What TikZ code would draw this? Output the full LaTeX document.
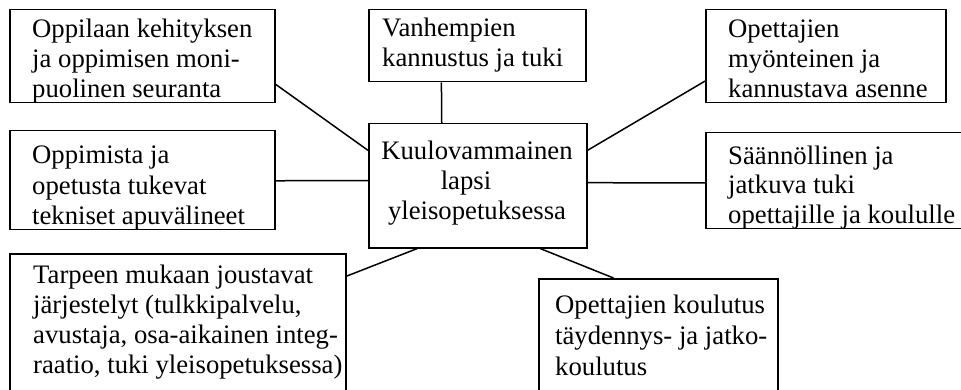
\documentclass[tikz,border=0pt]{standalone}
\usepackage{fontspec}
\setmainfont{Liberation Serif}
\usetikzlibrary{calc}
\begin{document}
\begin{tikzpicture}[x=1pt,y=-1pt,
  boxnode/.style={draw=black,line width=1.5pt,rectangle,inner sep=0pt,anchor=north west},
  txt/.style={inner sep=0pt,anchor=base west,font=\fontsize{26.7}{30}\selectfont},
  ctxt/.style={inner sep=0pt,anchor=base,font=\fontsize{26.7}{30}\selectfont},
  link/.style={draw=black,line width=1.5pt}]
\useasboundingbox (0,0) rectangle (961,390);
\clip (0,0) rectangle (961,390);
\fill[white] (0,0) rectangle (961,390);
% boxes
\node[boxnode,minimum width=265pt,minimum height=93pt] (b1) at (9,9) {};
\node[boxnode,minimum width=217pt,minimum height=72pt] (b2) at (368,9) {};
\node[boxnode,minimum width=240pt,minimum height=93pt] (b3) at (705,9) {};
\node[boxnode,minimum width=265pt,minimum height=99pt] (b4) at (9,130) {};
\node[boxnode,minimum width=218pt,minimum height=124pt] (c) at (368,123) {};
\node[boxnode,minimum width=270pt,minimum height=96pt] (b5) at (705,132) {};
\node[boxnode,minimum width=336pt,minimum height=150pt] (b6) at (9,253) {};
\node[boxnode,minimum width=239pt,minimum height=130pt] (b7) at (538,278) {};
% texts
\node[txt] (t1a) at (32,38) {Oppilaan kehityksen};
\node[txt] (t1b) at (32,68) {ja oppimisen moni-};
\node[txt] (t1c) at (32,98) {puolinen seuranta};
\node[txt] (t2a) at (382,37) {Vanhempien};
\node[txt] (t2b) at (382,67) {kannustus ja tuki};
\node[txt] (t3a) at (728,38) {Opettajien};
\node[txt] (t3b) at (728,68) {myönteinen ja};
\node[txt] (t3c) at (728,98) {kannustava asenne};
\node[txt] (t4a) at (32,164) {Oppimista ja};
\node[txt] (t4b) at (32,194.5) {opetusta tukevat};
\node[txt] (t4c) at (32,225) {tekniset apuvälineet};
\node[ctxt] (tca) at (477,160) {Kuulovammainen};
\node[ctxt] (tcb) at (466,190) {lapsi};
\node[ctxt] (tcc) at (477,220) {yleisopetuksessa};
\node[txt] (t5a) at (728,165) {Säännöllinen ja};
\node[txt] (t5b) at (728,194) {jatkuva tuki};
\node[txt] (t5c) at (728,223) {opettajille ja koululle};
\node[txt] (t6a) at (33,283) {Tarpeen mukaan joustavat};
\node[txt] (t6b) at (33,313) {järjestelyt (tulkkipalvelu,};
\node[txt] (t6c) at (33,343) {avustaja, osa-aikainen integ-};
\node[txt] (t6d) at (33,373) {raatio, tuki yleisopetuksessa)};
\node[txt] (t7a) at (555,313) {Opettajien koulutus};
\node[txt] (t7b) at (555,344) {täydennys- ja jatko-};
\node[txt] (t7c) at (555,375) {koulutus};
% connectors
\draw[link] ($(b1.north east)!0.796!(b1.south east)$) -- ($(c.north west)!0.218!(c.south west)$);
\draw[link] ($(b2.south west)!0.336!(b2.south east)$) -- ($(c.north west)!0.336!(c.north east)$);
\draw[link] ($(b4.north east)!0.505!(b4.south east)$) -- ($(c.north west)!0.460!(c.south west)$);
\draw[link] ($(b3.north west)!0.763!(b3.south west)$) -- ($(c.north east)!0.218!(c.south east)$);
\draw[link] ($(b5.north west)!0.521!(b5.south west)$) -- ($(c.north east)!0.476!(c.south east)$);
\draw[link] ($(b6.north east)!0.153!(b6.south east)$) -- ($(c.south west)!0.225!(c.south east)$);
\draw[link] ($(b7.north west)!0.314!(b7.north east)$) -- ($(c.south west)!0.784!(c.south east)$);
\end{tikzpicture}
\end{document}
